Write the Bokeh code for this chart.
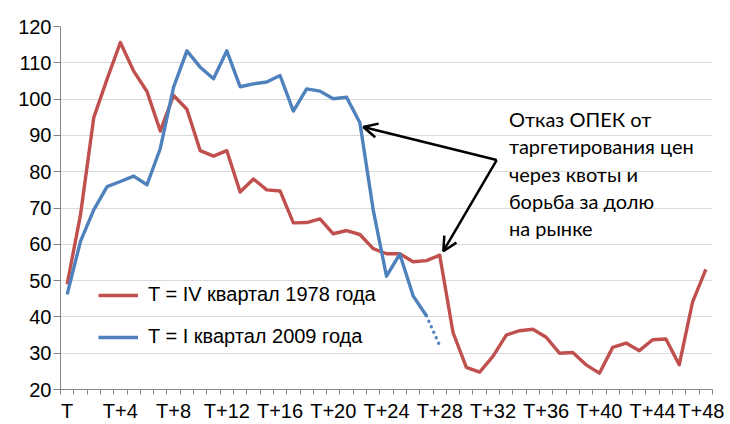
from bokeh.plotting import figure
from bokeh.models import (Range1d, FixedTicker, Legend, LegendItem, Arrow, OpenHead, Label)
from bokeh.embed import file_html
from bokeh.resources import INLINE

# ---- data ----
quarter_labels = ["T"] + ["T+%d" % k for k in range(1, 49)]

red_1978 = [49.0, 68.1, 94.9, 105.5, 115.6, 107.7, 102.1, 91.2, 101.0, 97.2,
            85.8, 84.3, 85.8, 74.4, 78.0, 75.0, 74.7, 65.9, 66.0, 67.0,
            62.9, 63.8, 62.7, 58.8, 57.4, 57.4, 55.2, 55.5, 57.0, 35.7,
            26.1, 24.8, 29.1, 35.0, 36.2, 36.6, 34.4, 30.0, 30.2, 26.8,
            24.5, 31.6, 32.8, 30.7, 33.7, 33.9, 26.8, 44.1, 53.1]

blue_2009 = [46.2, 60.8, 69.5, 75.9, 77.3, 78.8, 76.4, 86.4, 103.3, 113.3,
             108.8, 105.6, 113.3, 103.4, 104.2, 104.7, 106.5, 96.7, 102.8, 102.2,
             100.1, 100.5, 93.5, 69.5, 51.2, 57.3, 45.8, 40.3]

blue_tail_x = [27, 28]
blue_tail = [40.3, 32.1]

legend_labels = ["T = IV квартал 1978 года", "T = I квартал 2009 года"]
note_lines = ["Отказ ОПЕК от", "таргетирования цен", "через квоты и",
              "борьба за долю", "на рынке"]

y_ticks = [20, 30, 40, 50, 60, 70, 80, 90, 100, 110, 120]
x_label_every = 4

RED = "#C0504D"
BLUE = "#4F81BD"
AXIS_FONT = "Liberation Sans"
NOTE_FONT = "Lato"

n = len(red_1978)
xr = list(range(n))
xb = list(range(len(blue_2009)))

p = figure(width=724, height=424, output_backend="svg", toolbar_location=None,
           x_range=Range1d(-0.5, n - 0.5), y_range=Range1d(20, 120),
           min_border_left=60, min_border_right=12, min_border_top=26,
           min_border_bottom=33)
p.outline_line_color = None
p.background_fill_color = "white"
p.border_fill_color = "white"

r_red = p.line(xr, red_1978, line_color=RED, line_width=3.4, line_join="round")
r_blue = p.line(xb, blue_2009, line_color=BLUE, line_width=3.4, line_join="round")
p.line(blue_tail_x, blue_tail, line_color=BLUE, line_width=3.4,
       line_dash="0 6", line_cap="round")

# axes
xa = p.xaxis[0]
xa.ticker = FixedTicker(ticks=list(range(0, n, x_label_every)),
                        minor_ticks=[k - 0.5 for k in range(n + 1)])
xa.major_label_overrides = {i: quarter_labels[i] for i in range(0, n, x_label_every)}
xa.major_tick_line_color = None
xa.major_tick_out = 0
xa.major_tick_in = 0
xa.minor_tick_line_color = "#868686"
xa.minor_tick_out = 5
xa.minor_tick_in = 0
xa.axis_line_color = "#868686"
xa.major_label_standoff = 5
xa.major_label_text_font = AXIS_FONT
xa.major_label_text_font_size = "20px"
xa.major_label_text_color = "black"

ya = p.yaxis[0]
ya.ticker = FixedTicker(ticks=y_ticks, minor_ticks=[])
ya.major_tick_out = 7
ya.major_tick_in = 0
ya.major_tick_line_color = "#868686"
ya.axis_line_color = "#868686"
ya.major_label_standoff = 2
ya.major_label_text_font = AXIS_FONT
ya.major_label_text_font_size = "20px"
ya.major_label_text_color = "black"

p.xgrid.visible = False
p.ygrid.ticker = FixedTicker(ticks=y_ticks)
p.ygrid.grid_line_color = "#D9D9D9"
p.ygrid.grid_line_width = 1

legend = Legend(items=[LegendItem(label=legend_labels[0], renderers=[r_red]),
                       LegendItem(label=legend_labels[1], renderers=[r_blue])],
                location=(38, 41), glyph_width=40, glyph_height=20,
                label_height=20, spacing=19, padding=0, margin=0,
                label_standoff=10, border_line_color=None,
                background_fill_alpha=0,
                label_text_font=AXIS_FONT, label_text_font_size="20px",
                label_text_color="black")
p.add_layout(legend)

# annotation
for i, line in enumerate(note_lines):
    p.add_layout(Label(x=33.2, y=94.6 - 7.55 * i, text=line,
                       text_font=NOTE_FONT, text_font_size="20px",
                       text_baseline="middle", text_color="black"))

for (xe, ye) in [(22.26, 92.3), (28.27, 58.1)]:
    p.add_layout(Arrow(end=OpenHead(size=14, line_width=2.5, line_color="black"),
                       x_start=32.28, y_start=83.2, x_end=xe, y_end=ye,
                       line_width=2.5, line_color="black"))

open("out.html", "w").write(file_html(p, INLINE))
